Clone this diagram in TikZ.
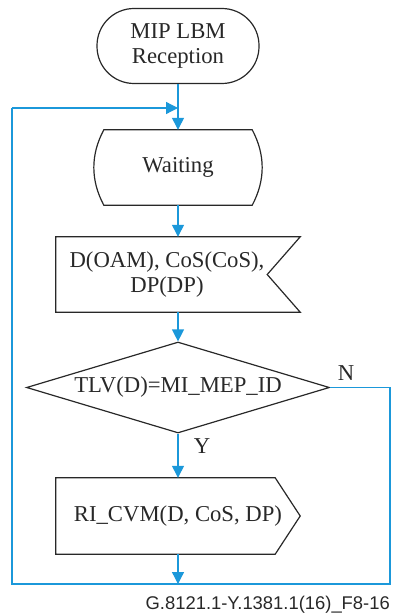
\documentclass[tikz,border=0pt]{standalone}
\usepackage{fontspec}
\setmainfont{Liberation Serif}
\newfontfamily\capfont{Liberation Sans}
\usetikzlibrary{shapes.geometric,arrows.meta}
\definecolor{flowblue}{RGB}{27,152,218}
\definecolor{boxgray}{RGB}{40,40,40}

\begin{document}
\begin{tikzpicture}[x=1pt,y=-1pt,
  txt/.style={font=\fontsize{22.7}{25.5}\selectfont, text=boxgray, align=center, inner sep=0pt},
  boxline/.style={draw=boxgray, line width=1.2pt},
  flow/.style={draw=flowblue, line width=1.3pt},
  arr/.style={flow, -{Triangle[length=12pt,width=12pt]}}]

\useasboundingbox (0,0) rectangle (392,615);

% start symbol
\node[txt, boxline, rounded corners=37pt, minimum width=162pt, minimum height=75pt] (start) at (178,46) {MIP LBM\\Reception};

% waiting state
\node[txt, minimum width=168pt, minimum height=75pt] (wait) at (178,167.5) {Waiting};
\draw[boxline] ([xshift=10pt]wait.north west) -- ([xshift=-10pt]wait.north east)
  .. controls +(13.3,25) and +(13.3,-25) .. ([xshift=-10pt]wait.south east)
  -- ([xshift=10pt]wait.south west)
  .. controls +(-13.3,-25) and +(-13.3,25) .. cycle;

% input signal
\node[inner sep=0pt, minimum width=244pt, minimum height=75pt] (recv) at (178,274.5) {};
\draw[boxline] (recv.north west) -- (recv.north east) -- ([xshift=-33pt]recv.east)
  -- (recv.south east) -- (recv.south west) -- cycle;
\node[txt] (recvtxt) at ([xshift=-11pt]recv.center) {D(OAM), CoS(CoS),\\DP(DP)};

% decision
\node[txt, boxline, diamond, aspect=3.3, minimum width=303pt, minimum height=91pt] (check) at (178,387.5) {TLV(D)=MI\_MEP\_ID};

% output signal
\node[txt, minimum width=244pt, minimum height=76pt] (send) at (178,516) {RI\_CVM(D, CoS, DP)};
\draw[boxline] (send.north west) -- ([xshift=-25pt]send.north east) -- (send.east)
  -- ([xshift=-25pt]send.south east) -- (send.south west) -- cycle;

\coordinate (back) at (178,108);
\coordinate (join) at (178,584);
\coordinate (nturn) at (390,387.5);
\coordinate (brturn) at (390,584);
\coordinate (blturn) at (12,584);
\coordinate (tlturn) at (12,108);

\draw[arr] (start) -- (wait);
\draw[arr] (wait) -- (recv);
\draw[arr] (recv) -- (check);
\draw[arr] (check) -- (send);
\draw[arr] (send) -- (join);
\draw[flow] (check.east) -- (nturn) -- (brturn) -- (blturn) -- (tlturn);
\draw[arr] (tlturn) -- (back);

\node[txt] (ylbl) at (202,446) {Y};
\node[txt] (nlbl) at (346,373) {N};

\node[font=\capfont\fontsize{18.4}{20}\selectfont, text=boxgray, anchor=base east, inner sep=0pt] (figid) at (390,609.5) {G.8121.1-Y.1381.1(16)\_F8-16};
\end{tikzpicture}
\end{document}
